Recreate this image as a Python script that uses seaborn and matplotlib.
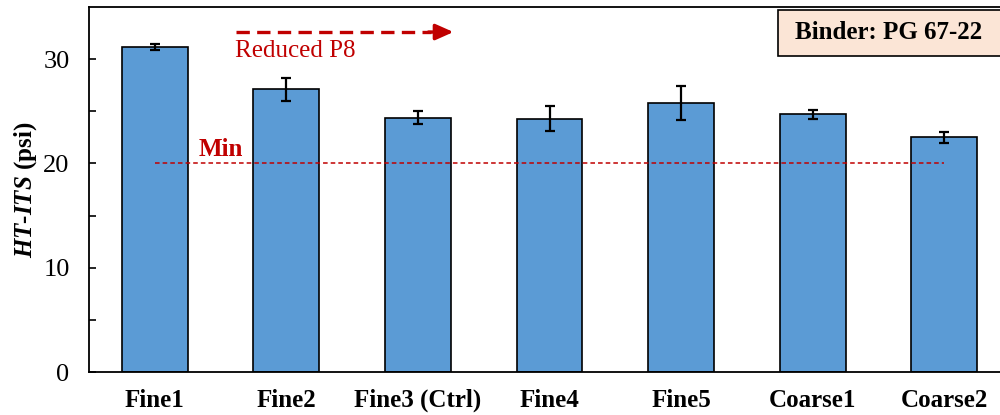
import matplotlib
matplotlib.use("Agg")
import matplotlib.pyplot as plt
from matplotlib.patches import Rectangle
import seaborn as sns
import pandas as pd
import numpy as np

# Mixture names, mean HT-ITS strength and standard deviation (psi)
mixes = ["Fine1", "Fine2", "Fine3 (Ctrl)", "Fine4", "Fine5", "Coarse1", "Coarse2"]
ht_its = [31.2, 27.1, 24.4, 24.3, 25.8, 24.7, 22.5]
ht_its_sd = [0.3, 1.1, 0.6, 1.2, 1.6, 0.45, 0.5]
min_ht_its = 20
binder = "Binder: PG 67-22"

sns.set_theme(style="white")
plt.rcParams["font.family"] = ["Liberation Serif", "DejaVu Serif"]
plt.rcParams["mathtext.fontset"] = "custom"
plt.rcParams["mathtext.rm"] = "Liberation Serif"
plt.rcParams["mathtext.bf"] = "Liberation Serif:bold"
plt.rcParams["mathtext.bfit"] = "Liberation Serif:bold:italic"
for key in ["text.color", "axes.labelcolor", "xtick.color", "ytick.color",
            "axes.edgecolor"]:
    plt.rcParams[key] = "black"

RED = "#c00000"
BLUE = "#5b9bd5"

df = pd.DataFrame({"mix": mixes, "ht_its": ht_its})

fig = plt.figure(figsize=(10, 4.15), dpi=100)
ax = fig.add_axes([0.089, 0.1036, 0.921, 0.8795])

sns.barplot(data=df, x="mix", y="ht_its", color=BLUE, saturation=1,
            width=0.5, edgecolor="black", linewidth=1.2, errorbar=None, ax=ax)
ax.errorbar(np.arange(len(mixes)), ht_its, yerr=ht_its_sd, fmt="none",
            ecolor="black", elinewidth=1.6, capsize=3.5, capthick=1.6, zorder=5)

# Minimum requirement line
ax.plot([0, len(mixes) - 1], [min_ht_its, min_ht_its], color=RED,
        linestyle=(0, (3, 2)), linewidth=1.1, zorder=4)
ax.text(0.33, min_ht_its + 1.35, "Min", color=RED, fontsize=18,
        fontweight="bold", ha="left", va="center")

# Direction of reduced P8 content
ax.plot([0.62, 2.1], [32.6, 32.6], color=RED, linestyle=(0, (4, 2.2)),
        linewidth=2.4, solid_capstyle="butt", dash_capstyle="butt")
ax.annotate("", xy=(2.27, 32.6), xytext=(2.08, 32.6),
            arrowprops=dict(arrowstyle="-|>,head_length=0.9,head_width=0.4",
                            color=RED, lw=2.4, shrinkA=0, shrinkB=0))
ax.text(0.61, 30.8, "Reduced P8", color=RED, fontsize=18,
        ha="left", va="center")

# Binder label box running off the right edge
ax.add_patch(Rectangle((0.748, 0.866), 0.27, 0.126, transform=ax.transAxes,
                       facecolor="#fbe5d6", edgecolor="black", linewidth=1.2,
                       clip_on=False, zorder=6))
ax.text(0.767, 0.929, binder, transform=ax.transAxes, fontsize=18,
        fontweight="bold", ha="left", va="center", zorder=7)

ax.set_ylim(0, 35)
ax.set_xlim(-0.5, len(mixes) - 0.5)
ax.set_yticks([0, 10, 20, 30])
ax.set_yticks([5, 15, 25], minor=True)
ax.tick_params(axis="y", which="both", direction="in", length=5, width=1.2,
               left=True, labelsize=19, pad=14, colors="black")
ax.tick_params(axis="x", which="both", length=0, labelsize=18, pad=12,
               colors="black")
for lbl in ax.get_xticklabels():
    lbl.set_fontweight("bold")

ax.set_xlabel("")
ax.set_ylabel(r"$\mathbfit{HT}$-$\mathbfit{ITS}$ (psi)", fontsize=18,
              fontweight="bold", labelpad=3, color="black")

for side in ["left", "bottom", "top"]:
    ax.spines[side].set_visible(True)
    ax.spines[side].set_color("black")
    ax.spines[side].set_linewidth(1.3)
ax.spines["right"].set_visible(False)

fig.savefig("out.png", dpi=100)
